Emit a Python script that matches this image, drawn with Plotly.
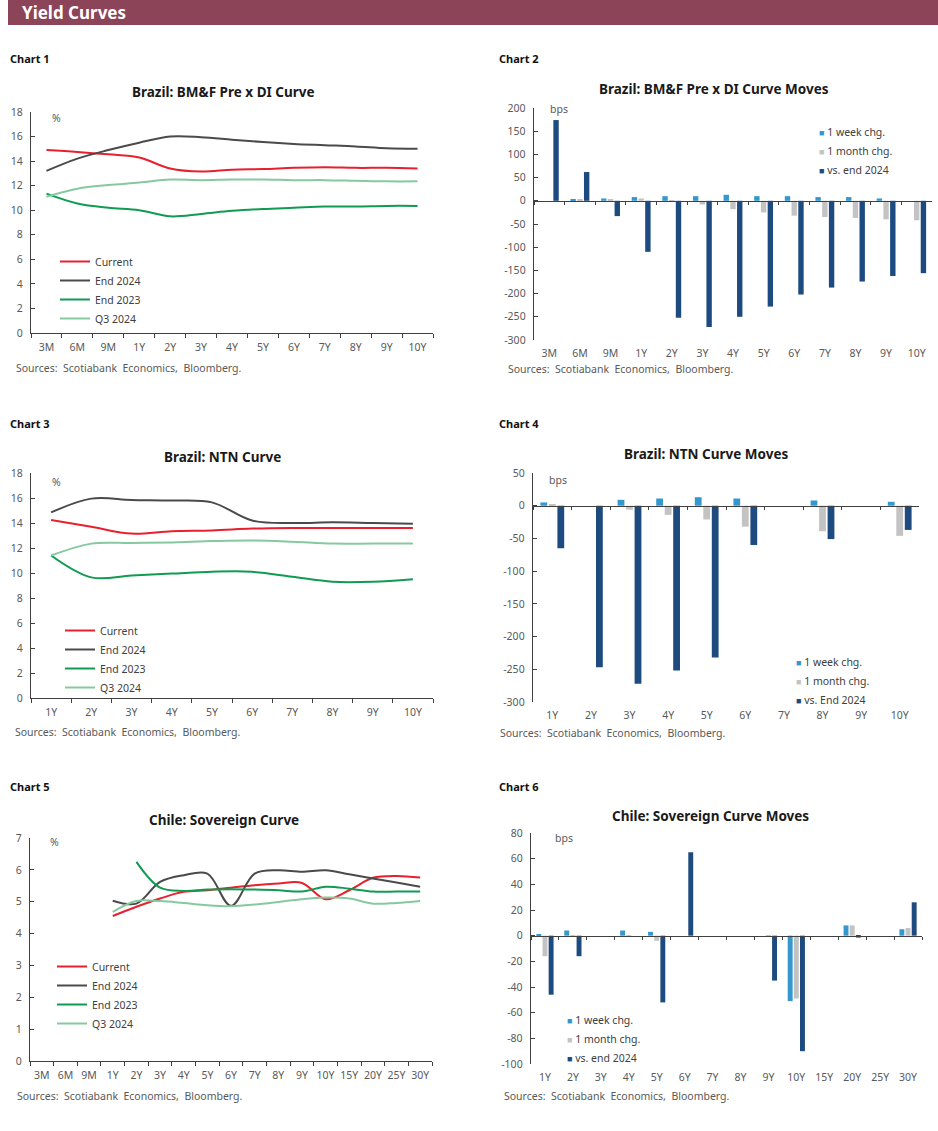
import plotly.graph_objects as go

# ---------------- DATA ----------------
c1_cats = ["3M", "6M", "9M", "1Y", "2Y", "3Y", "4Y", "5Y", "6Y", "7Y", "8Y", "9Y", "10Y"]
c1_current = [14.9, 14.75, 14.55, 14.3, 13.4, 13.15, 13.3, 13.35, 13.45, 13.5, 13.45, 13.45, 13.4]
c1_end2024 = [13.2, 14.2, 14.9, 15.5, 16.0, 15.95, 15.75, 15.55, 15.4, 15.3, 15.2, 15.05, 15.0]
c1_end2023 = [11.35, 10.55, 10.2, 10.0, 9.5, 9.7, 9.95, 10.1, 10.2, 10.3, 10.3, 10.35, 10.35]
c1_q3 = [11.1, 11.75, 12.05, 12.25, 12.5, 12.45, 12.5, 12.5, 12.45, 12.45, 12.4, 12.35, 12.35]

c2_cats = c1_cats
c2_week = [0, 2, 5, 8, 10, 10, 13, 10, 10, 8, 8, 5, 0]
c2_month = [0, 2, 3, 5, -2, -8, -18, -25, -32, -35, -37, -40, -42]
c2_vs = [174, 62, -33, -110, -252, -272, -250, -228, -202, -187, -174, -162, -156]

c3_cats = ["1Y", "2Y", "3Y", "4Y", "5Y", "6Y", "7Y", "8Y", "9Y", "10Y"]
c3_current = [14.24, 13.7, 13.15, 13.35, 13.4, 13.55, 13.6, 13.6, 13.6, 13.6]
c3_end2024 = [14.85, 15.95, 15.85, 15.8, 15.65, 14.2, 14.0, 14.05, 14.0, 13.95]
c3_end2023 = [11.4, 9.65, 9.8, 9.95, 10.1, 10.1, 9.7, 9.3, 9.3, 9.5]
c3_q3 = [11.4, 12.35, 12.4, 12.45, 12.55, 12.6, 12.5, 12.35, 12.35, 12.35]

c4_cats = c3_cats
c4_week = [5, None, 9, 11, 13, 11, None, 8, None, 6]
c4_month = [2, None, -6, -14, -21, -32, None, -39, None, -46]
c4_vs = [-65, -247, -272, -252, -232, -60, None, -51, None, -37]

c5_cats = ["3M", "6M", "9M", "1Y", "2Y", "3Y", "4Y", "5Y", "6Y", "7Y", "8Y", "9Y", "10Y",
           "15Y", "20Y", "25Y", "30Y"]
c5_current = [None, None, None, 4.55, 4.84, 5.1, 5.31, 5.36, 5.44, 5.52, 5.57, 5.59, 5.08,
              5.36, 5.75, 5.81, 5.76]
c5_end2024 = [None, None, None, 5.03, 4.94, 5.62, 5.83, 5.88, 4.87, 5.88, 5.99, 5.94, 5.99,
              5.86, 5.73, 5.6, 5.47]
c5_end2023 = [None, None, None, None, 6.25, 5.44, 5.34, 5.38, 5.39, 5.38, 5.36, 5.32, 5.47,
              5.41, 5.32, 5.32, 5.32]
c5_q3 = [None, None, None, 4.68, 5.02, 5.02, 4.96, 4.89, 4.86, 4.91, 4.99, 5.08, 5.13,
         5.1, 4.94, 4.96, 5.02]

c6_cats = ["1Y", "2Y", "3Y", "4Y", "5Y", "6Y", "7Y", "8Y", "9Y", "10Y", "15Y", "20Y", "25Y", "30Y"]
c6_week = [1, 4, None, 4, 3, 0, None, None, 0, -51, None, 8, None, 5]
c6_month = [-16, -1, None, -1, -4, 0, None, None, -1, -49, None, 8, None, 6]
c6_vs = [-46, -16, None, 0, -52, 65, None, None, -35, -90, None, -1.5, None, 26]

line_names = ["Current", "End 2024", "End 2023", "Q3 2024"]
bar_names_2 = ["1 week chg.", "1 month chg.", "vs. end 2024"]
bar_names_4 = ["1 week chg.", "1 month chg.", "vs. End 2024"]
bar_names_6 = ["1 week chg.", "1 month chg.", "vs. end 2024"]

ticks_c1 = [0, 2, 4, 6, 8, 10, 12, 14, 16, 18]
ticks_c2 = [-300, -250, -200, -150, -100, -50, 0, 50, 100, 150, 200]
ticks_c4 = [-300, -250, -200, -150, -100, -50, 0, 50]
ticks_c5 = [0, 1, 2, 3, 4, 5, 6, 7]
ticks_c6 = [-100, -80, -60, -40, -20, 0, 20, 40, 60, 80]

titles = ["Brazil: BM&F Pre x DI Curve", "Brazil: BM&F Pre x DI Curve Moves",
          "Brazil: NTN Curve", "Brazil: NTN Curve Moves",
          "Chile: Sovereign Curve", "Chile: Sovereign Curve Moves"]
units = ["%", "bps", "%", "bps", "%", "bps"]
source_text = "Sources:  Scotiabank  Economics,  Bloomberg."

# ---------------- STYLE / LAYOUT ----------------
W, H = 938, 1131
FONT = "Noto Sans"
LINE_COLORS = ["#E8202E", "#4A4A4A", "#109A52", "#86C9A0"]
BAR_COLORS = ["#3497CE", "#C3C3C3", "#1D4A7F"]
AXIS_COLOR = "#404040"
TICK_FONT = dict(family=FONT, size=10.5, color="#595959")


def px_x(p):
    return p / W


def px_y(p):
    return 1 - p / H


# plot areas in pixels: x0, x1, y_top, y_bottom
areas = [
    (31, 433, 112, 333),
    (534, 932, 108, 340),
    (31, 433, 473, 698),
    (533, 919, 473, 702),
    (30, 432, 838, 1061),
    (531, 922, 833, 1064),
]
yranges = [(0, 18), (-300, 200), (0, 18), (-300, 50), (0, 7), (-100, 80)]
yticks = [ticks_c1, ticks_c2, ticks_c1, ticks_c4, ticks_c5, ticks_c6]
cats = [c1_cats, c2_cats, c3_cats, c4_cats, c5_cats, c6_cats]

fig = go.Figure()

line_sets = {0: [c1_current, c1_end2024, c1_end2023, c1_q3],
             2: [c3_current, c3_end2024, c3_end2023, c3_q3],
             4: [c5_current, c5_end2024, c5_end2023, c5_q3]}
bar_sets = {1: ([c2_week, c2_month, c2_vs], bar_names_2),
            3: ([c4_week, c4_month, c4_vs], bar_names_4),
            5: ([c6_week, c6_month, c6_vs], bar_names_6)}

for i in range(6):
    ax = "" if i == 0 else str(i + 1)
    leg = "legend" + ax
    if i in line_sets:
        for k, series in enumerate(line_sets[i]):
            fig.add_trace(go.Scatter(
                x=cats[i], y=series, name=line_names[k], mode="lines",
                line=dict(color=LINE_COLORS[k], width=2, shape="spline", smoothing=1),
                xaxis="x" + ax, yaxis="y" + ax, legend=leg, legendgroup=f"g{i}{k}",
                hoverinfo="skip"))
    else:
        series_list, names = bar_sets[i]
        for k, series in enumerate(series_list):
            fig.add_trace(go.Bar(
                x=cats[i], y=series, name=names[k], marker_color=BAR_COLORS[k],
                marker_line_width=0, xaxis="x" + ax, yaxis="y" + ax,
                showlegend=False, offsetgroup=str(k)))
        for k in range(3):
            label = ('<span style="color:%s;font-size:9px">■</span> %s'
                     % (BAR_COLORS[k], names[k]))
            fig.add_trace(go.Scatter(
                x=[None], y=[None], name=label, mode="markers",
                marker=dict(symbol="square", size=6, color="rgba(0,0,0,0)",
                            line=dict(width=0, color="rgba(0,0,0,0)")),
                xaxis="x" + ax, yaxis="y" + ax, legend=leg, legendgroup=f"g{i}{k}"))

layout = dict(
    width=W, height=H, margin=dict(l=0, r=0, t=0, b=0, pad=0, autoexpand=False),
    paper_bgcolor="white", plot_bgcolor="white",
    font=dict(family=FONT, size=10, color="#595959"),
    barmode="group", bargap=0.34, bargroupgap=0.2,
    hovermode=False,
)

# legend top-left corners (pixels)
legend_pos = [(55, 247), (779, 117), (60, 616), (756, 647), (52, 952), (527, 1005)]

annotations = []
shapes = []
for i in range(6):
    ax = "" if i == 0 else str(i + 1)
    x0, x1, yt, yb = areas[i]
    ymin, ymax = yranges[i]
    xdom = [px_x(x0), px_x(x1)]
    ydom = [px_y(yb), px_y(yt)]
    xa = dict(domain=xdom, range=[-0.5, len(cats[i]) - 0.5], type="category",
              showline=True, linecolor=AXIS_COLOR, linewidth=1, tickangle=0,
              ticks="outside", ticklen=4, tickcolor=AXIS_COLOR, tickson="boundaries",
              tickfont=TICK_FONT, showgrid=False, zeroline=False, fixedrange=True,
              automargin=False)
    if i % 2 == 1:
        zero_pos = ydom[0] + (0 - ymin) / (ymax - ymin) * (ydom[1] - ydom[0])
        zero_px = yt + (ymax - 0) / (ymax - ymin) * (yb - yt)
        xa.update(anchor="free", position=zero_pos, ticklen=3,
                  ticklabelstandoff=int(round(yb - zero_px + 4)))
    else:
        xa.update(anchor="y" + ax, ticklabelstandoff=4)
    ya = dict(domain=ydom, range=[ymin, ymax], anchor="x" + ax,
              showline=True, linecolor=AXIS_COLOR, linewidth=1,
              ticks="inside", ticklen=4, tickcolor=AXIS_COLOR,
              tickvals=yticks[i], ticktext=[str(v) + "\u2002" for v in yticks[i]],
              tickfont=TICK_FONT, showgrid=False, zeroline=False, fixedrange=True,
              automargin=False)
    layout["xaxis" + ax] = xa
    layout["yaxis" + ax] = ya

    lx, ly = legend_pos[i]
    layout["legend" + ax] = dict(
        x=px_x(lx), y=px_y(ly), xref="paper", yref="paper",
        xanchor="left", yanchor="top", bgcolor="rgba(0,0,0,0)",
        font=dict(family=FONT, size=10.5, color="#404040"),
        traceorder="grouped", tracegroupgap=0, itemwidth=30,
        borderwidth=0)

# titles, units, chart labels, sources (pixel positions)
title_pos = [(223, 92), (714, 89), (222, 457), (706, 454), (224, 820), (710, 816)]
unit_pos = [(50, 118), (548, 109), (50, 482), (547, 480), (48, 842), (553, 838)]
label_pos = [(8, 59), (497, 59), (8, 423), (497, 423), (8, 786), (497, 786)]
source_pos = [(14, 368), (506, 369), (13, 732), (498, 733), (15, 1096), (502, 1096)]

for i in range(6):
    tx, ty = title_pos[i]
    annotations.append(dict(text="<b>" + titles[i] + "</b>", x=px_x(tx), y=px_y(ty),
                            xref="paper", yref="paper", xanchor="center", yanchor="middle",
                            showarrow=False, font=dict(family=FONT, size=13.5, color="#1a1a1a")))
    ux, uy = unit_pos[i]
    annotations.append(dict(text=units[i], x=px_x(ux), y=px_y(uy), xref="paper", yref="paper",
                            xanchor="left", yanchor="middle", showarrow=False,
                            font=dict(family=FONT, size=10.5, color="#595959")))
    lx, ly = label_pos[i]
    annotations.append(dict(text="<b>Chart %d</b>" % (i + 1), x=px_x(lx), y=px_y(ly),
                            xref="paper", yref="paper", xanchor="left", yanchor="middle",
                            showarrow=False, font=dict(family=FONT, size=11, color="#111111")))
    sx, sy = source_pos[i]
    annotations.append(dict(text=source_text, x=px_x(sx), y=px_y(sy), xref="paper", yref="paper",
                            xanchor="left", yanchor="middle", showarrow=False,
                            font=dict(family=FONT, size=10.5, color="#595959")))

# header bar
shapes.append(dict(type="rect", xref="paper", yref="paper", x0=px_x(8), x1=1,
                   y0=px_y(25), y1=1, fillcolor="#8C4458", line=dict(width=0), layer="below"))
annotations.append(dict(text="<b>Yield Curves</b>", x=px_x(20), y=px_y(12.5), xref="paper",
                        yref="paper", xanchor="left", yanchor="middle", showarrow=False,
                        font=dict(family=FONT, size=17, color="white")))

layout["annotations"] = annotations
layout["shapes"] = shapes
fig.update_layout(**layout)

PIN_SCRIPT = (
    "document.documentElement.style.margin='0px';"
    "document.body.style.margin='0px';"
    "document.body.style.overflow='hidden';"
    "var gd=document.getElementsByClassName('plotly-graph-div')[0];"
    "gd.style.position='fixed';gd.style.top='0px';gd.style.left='0px';"
)

fig.write_html("out.html", config={"displayModeBar": False}, post_script=PIN_SCRIPT)
